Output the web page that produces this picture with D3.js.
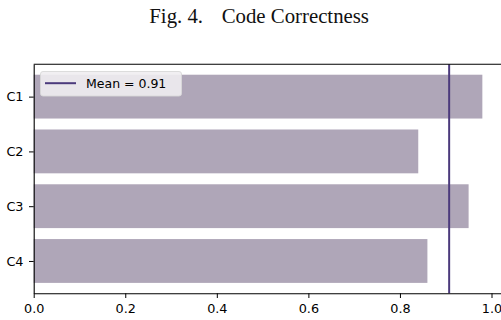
<!DOCTYPE html>
<html>
<head>
<meta charset="utf-8">
<script src="https://cdn.jsdelivr.net/npm/d3@7"></script>
<style>
  html, body { margin: 0; padding: 0; background: #fff; }
  svg { display: block; }
</style>
</head>
<body>
<svg id="chart" width="501" height="320"></svg>
<script>
// Correctness score per code sample
const categories = ["C1", "C2", "C3", "C4"];
const scores = [0.98, 0.84, 0.95, 0.86];
const xTicks = [0.0, 0.2, 0.4, 0.6, 0.8, 1.0];
const captionLabel = "Fig. 4.";
const captionText = "Code Correctness";

const mean = d3.mean(scores);

const svg = d3.select("#chart");
const plot = { left: 33.7, top: 64.3, bottom: 293.3 };
const tickFont = "'DejaVu Sans', sans-serif";
const tickSize = 12.8;

const xMax = d3.max(scores) * 1.05;
const x = d3.scaleLinear().domain([0, xMax]).range([plot.left, plot.left + 457.8 * xMax]);

// band positions: bars 0.8 wide, 5% margins around the data range
const n = categories.length;
const yLin = d3.scaleLinear()
  .domain([-0.4 - 0.19, n - 1 + 0.4 + 0.19])
  .range([plot.top, plot.bottom]);

// caption: label, then a quad space, then the title
const cap = svg.append("text")
  .attr("y", 23.3)
  .attr("font-family", "'Liberation Serif', 'Times New Roman', serif")
  .attr("font-size", 20.8)
  .attr("fill", "#111");
cap.append("tspan").attr("x", 149.3).text(captionLabel);
cap.append("tspan").attr("x", 221.7).text(captionText);

// bars
svg.append("g").selectAll("rect")
  .data(scores)
  .join("rect")
  .attr("x", x(0))
  .attr("y", (d, i) => yLin(i - 0.4))
  .attr("width", d => x(d) - x(0))
  .attr("height", (d, i) => yLin(i + 0.4) - yLin(i - 0.4))
  .attr("fill", "#afa6b8");

// mean line
svg.append("line")
  .attr("x1", x(mean)).attr("x2", x(mean))
  .attr("y1", plot.top).attr("y2", plot.bottom)
  .attr("stroke", "#4b3a7c").attr("stroke-width", 2);

// top spine
const right = x(xMax);
svg.append("line").attr("x1", plot.left).attr("x2", right)
  .attr("y1", plot.top).attr("y2", plot.top)
  .attr("stroke", "#000").attr("stroke-width", 1.1);

// x axis
const xAxis = d3.axisBottom(x).tickValues(xTicks).tickFormat(d3.format(".1f"))
  .tickSizeInner(4.7).tickSizeOuter(0).tickPadding(5.5);
const gx = svg.append("g").attr("transform", `translate(0,${plot.bottom})`).call(xAxis);
gx.select(".domain").attr("stroke", "#000").attr("stroke-width", 1.1);
gx.selectAll(".tick line").attr("stroke", "#000").attr("stroke-width", 1);
gx.selectAll(".tick text")
  .attr("font-family", tickFont)
  .attr("font-size", tickSize).attr("fill", "#000");

// y axis
const yAxis = d3.axisLeft(yLin).tickValues(d3.range(n)).tickFormat(i => categories[i])
  .tickSizeInner(4.7).tickSizeOuter(0).tickPadding(5.5);
const gy = svg.append("g").attr("transform", `translate(${plot.left},0)`).call(yAxis);
gy.select(".domain").attr("stroke", "#000").attr("stroke-width", 1.1);
gy.selectAll(".tick line").attr("stroke", "#000").attr("stroke-width", 1);
gy.selectAll(".tick text")
  .attr("font-family", tickFont)
  .attr("font-size", tickSize).attr("fill", "#000");

// legend
const lg = svg.append("g");
lg.append("rect")
  .attr("x", 40.5).attr("y", 71.5).attr("width", 141).attr("height", 24.5)
  .attr("rx", 2.5)
  .attr("fill", "#efedf1").attr("fill-opacity", 0.9)
  .attr("stroke", "#d8d8d8").attr("stroke-width", 0.9);
lg.append("line")
  .attr("x1", 45).attr("x2", 76).attr("y1", 83.2).attr("y2", 83.2)
  .attr("stroke", "#4b3a7c").attr("stroke-width", 2);
lg.append("text")
  .attr("x", 86).attr("y", 87.8)
  .attr("font-family", tickFont)
  .attr("font-size", 12.5).attr("fill", "#000")
  .text(`Mean = ${d3.format(".2f")(mean)}`);
</script>
</body>
</html>
